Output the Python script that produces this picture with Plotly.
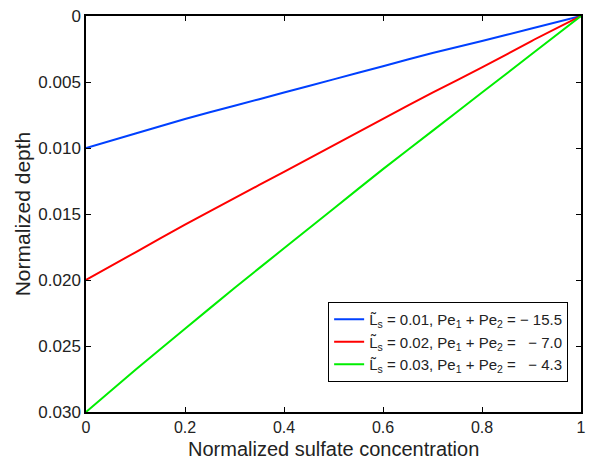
import plotly.graph_objects as go

conc = [0.0, 0.1, 0.2, 0.3, 0.4, 0.5, 0.6, 0.7, 0.8, 0.9, 1.0]
depth_blue = [0.0100, 0.0089, 0.0078, 0.0068, 0.0058, 0.0048, 0.0038, 0.0028, 0.0019, 0.00095, 0.0]
depth_red = [0.0200, 0.0179, 0.0158, 0.0138, 0.0118, 0.0098, 0.0078, 0.0058, 0.0039, 0.0019, 0.0]
depth_green = [0.0300, 0.0268, 0.0237, 0.0206, 0.0176, 0.0146, 0.0116, 0.0087, 0.0058, 0.0029, 0.0]

names = [
    "L\u0303<sub>s</sub> = 0.01, Pe<sub>1</sub> + Pe<sub>2</sub> = \u2212 15.5",
    "L\u0303<sub>s</sub> = 0.02, Pe<sub>1</sub> + Pe<sub>2</sub> = \u00a0\u00a0\u2212 7.0",
    "L\u0303<sub>s</sub> = 0.03, Pe<sub>1</sub> + Pe<sub>2</sub> = \u00a0\u00a0\u2212 4.3",
]
colors = ["#0040ff", "#ff0000", "#00ee00"]

x_tickvals = [0, 0.2, 0.4, 0.6, 0.8, 1]
x_ticktext = ["0", "0.2", "0.4", "0.6", "0.8", "1"]
y_tickvals = [0, 0.005, 0.010, 0.015, 0.020, 0.025, 0.030]
y_ticktext = ["0", "0.005", "0.010", "0.015", "0.020", "0.025", "0.030"]
x_title = "Normalized sulfate concentration"
y_title = "Normalized depth"

FONT = "Liberation Sans, Arial, Helvetica, sans-serif"

fig = go.Figure()
for ys, nm, col in zip([depth_blue, depth_red, depth_green], names, colors):
    fig.add_trace(go.Scatter(x=conc, y=ys, mode="lines", name=nm,
                             line=dict(color=col, width=2, shape="spline", smoothing=0.6)))

axis_common = dict(showgrid=False, zeroline=False, showline=True, linecolor="black",
                   linewidth=1.5, mirror="ticks", ticks="inside", ticklen=5,
                   tickcolor="black", tickwidth=1)

fig.update_layout(
    width=592, height=460,
    margin=dict(l=86, r=6, t=16, b=48),
    paper_bgcolor="white", plot_bgcolor="white",
    font=dict(family=FONT, color="#222"),
    xaxis=dict(range=[0, 1], tickvals=x_tickvals, ticktext=x_ticktext,
               ticklabelstandoff=0, tickfont=dict(family=FONT, size=16, color="#222"),
               **axis_common),
    yaxis=dict(range=[0.030, 0], tickvals=y_tickvals, ticktext=y_ticktext,
               tickfont=dict(family=FONT, size=17, color="#222"),
               title=dict(text=y_title, font=dict(size=21), standoff=2),
               **axis_common),
    legend=dict(x=0.974, y=0.076, xanchor="right", yanchor="bottom",
                bgcolor="white", bordercolor="black", borderwidth=1,
                font=dict(size=15, family=FONT, color="#222"),
                itemwidth=30, tracegroupgap=0),
    showlegend=True,
)
fig.add_annotation(text=x_title, xref="paper", yref="paper", x=0.5, y=0,
                   xanchor="center", yanchor="top", yshift=-24, showarrow=False,
                   font=dict(size=20, family=FONT, color="#222"))

fig.write_html("out.html")
